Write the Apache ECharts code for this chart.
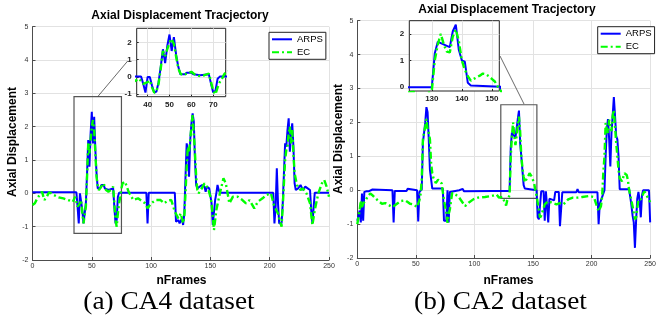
<!DOCTYPE html>
<html><head><meta charset="utf-8">
<script src="https://cdn.jsdelivr.net/npm/echarts@6/dist/echarts.min.js"></script>
<style>html,body{margin:0;padding:0;background:#fff}#c{width:659px;height:328px}</style>
</head><body><div id="c"></div>
<script>
// ---------- DATA: [frame, axial displacement] ----------
const arpsA = [[0,0.03],[37,0.03],[38,-0.4],[39,-0.9],[40,0.0],[41,0.0],[42,-0.5],[43,-0.9],[44,-0.85],[45,-0.3],
 [46,0.6],[47,1.6],[48,0.8],[49,1.8],[50,2.45],[51,1.5],[52,2.3],[53,1.3],[54,0.6],[55,0.15],
 [57,0.15],[58,0.25],[60,0.25],[61,0.15],[64,0.1],[68,0.15],[69,-0.4],[70,-0.9],[71,-0.8],[72,-0.1],
 [73,0.02],[96,0.02],[97,-0.9],[98,0.02],[120,0.02],[121,-0.85],[123,-0.8],[124,-0.9],[126,-0.75],[127,-0.95],
 [128,-0.6],[129,0.5],[130,1.5],[131,1.3],[132,0.5],[133,1.6],[134,2.1],[135,2.4],[136,2.15],[137,1.0],
 [138,0.25],[139,0.15],[141,0.2],[143,0.25],[145,0.2],[146,0.05],[147,0.2],[149,0.15],[150,0.1],[151,-0.3],
 [152,-0.95],[153,-0.9],[154,-0.2],[155,0.0],[156,0.25],[157,0.1],[158,0.02],[203,0.02],[204,-0.9],[205,-0.4],
 [206,0.75],[207,-0.3],[208,-0.9],[210,-0.9],[211,-0.3],[212,0.6],[213,1.5],[214,1.4],[215,1.9],[216,2.25],
 [217,1.25],[218,1.8],[219,2.1],[220,1.4],[221,0.3],[222,0.1],[224,0.15],[226,0.25],[228,0.1],[230,0.2],
 [232,0.15],[234,0.1],[235,-0.5],[236,-0.9],[237,-0.9],[238,0.02],[250,0.02]];

const ecA = [[0,-0.35],[2,-0.3],[4,-0.15],[6,-0.05],[8,0.05],[10,-0.2],[12,-0.1],[14,0.03],[16,0.0],[18,-0.05],
 [22,-0.12],[26,-0.15],[30,-0.2],[34,-0.25],[36,-0.1],[38,-0.4],[40,-0.3],[41,-0.2],[42,-0.6],[43,-0.9],
 [44,-0.85],[45,-0.4],[46,0.5],[47,1.5],[48,1.2],[49,1.6],[50,2.0],[51,2.2],[52,1.9],[53,1.2],
 [54,0.5],[55,0.2],[56,0.1],[58,0.2],[60,0.3],[62,0.1],[64,0.05],[66,0.1],[68,0.2],[69,-0.3],
 [70,-0.8],[71,-1.0],[72,-0.6],[73,-0.3],[74,-0.1],[75,0.15],[76,0.3],[78,0.35],[81,0.05],[85,-0.2],
 [89,-0.15],[93,-0.25],[95,-0.3],[97,-0.45],[100,-0.3],[104,-0.2],[108,-0.2],[111,-0.3],[114,-0.22],[117,-0.2],
 [120,-0.55],[123,-0.75],[125,-0.6],[127,-0.9],[128,-0.7],[129,0.0],[130,0.8],[131,1.4],[132,1.25],[133,1.6],
 [134,2.0],[135,2.35],[136,1.8],[137,1.2],[138,0.5],[139,0.1],[140,0.0],[142,0.1],[145,0.3],[148,0.15],
 [150,-0.1],[151,-0.3],[153,-1.1],[155,-0.5],[158,0.0],[161,0.45],[163,0.3],[166,-0.3],[169,-0.1],[173,-0.1],
 [177,-0.2],[180,-0.3],[183,-0.2],[187,-0.45],[190,-0.25],[194,-0.15],[197,-0.05],[201,0.0],[204,-0.4],[207,-0.6],
 [210,-1.0],[211,-0.4],[212,0.3],[213,1.0],[214,1.3],[215,1.4],[216,1.8],[217,2.0],[218,1.5],[219,1.9],
 [220,1.2],[221,0.6],[223,0.25],[226,0.1],[228,0.15],[231,0.0],[234,-0.3],[236,-0.95],[238,-0.5],[241,0.0],
 [244,0.3],[246,0.4],[248,0.2],[250,-0.1]];

const arpsB = [[0,-0.9],[1,-0.95],[2,-0.6],[3,-0.95],[4,-0.1],[5,-0.9],[6,-0.05],[8,-0.03],[10,-0.03],[13,0.02],
 [30,0.0],[31,-0.95],[32,-0.02],[42,-0.02],[43,0.04],[44,0.02],[51,0.0],[52,-0.92],[53,-0.05],[55,0.02],
 [56,1.4],[57,1.7],[58,2.0],[59,2.45],[60,2.3],[61,1.5],[62,0.6],[64,0.05],[73,0.05],[74,-0.9],
 [76,-0.9],[77,0.0],[78,-0.95],[79,-0.05],[87,0.0],[88,0.04],[90,0.04],[91,-0.03],[116,-0.02],[117,0.02],
 [118,-0.02],[130,-0.02],[131,1.27],[132,1.7],[133,1.65],[135,1.55],[136,1.5],[137,2.1],[138,2.35],[139,1.4],
 [140,1.0],[141,0.95],[142,0.15],[143,0.05],[153,0.0],[154,-0.8],[155,-0.86],[156,-0.9],[157,-0.03],[159,-0.03],
 [160,-0.9],[161,-0.03],[162,-0.05],[163,-0.95],[164,-0.25],[168,-0.3],[169,-0.05],[172,-0.05],[173,-1.06],[174,-1.06],
 [175,-0.06],[187,-0.06],[188,0.03],[189,-0.06],[205,-0.06],[206,-1.0],[207,-0.4],[208,-0.3],[210,-0.1],[211,0.0],
 [212,1.0],[213,1.8],[214,2.1],[215,1.5],[216,0.7],[217,1.7],[218,2.2],[219,2.75],[220,2.2],[221,1.6],
 [222,1.5],[223,1.0],[224,0.03],[232,0.03],[233,-0.2],[234,-0.45],[235,-0.75],[236,-0.95],[237,-1.7],[238,-0.9],
 [239,-0.25],[240,-0.05],[241,-0.3],[242,-0.8],[243,-0.15],[244,0.0],[249,0.0],[250,-0.95]];

const ecB = [[0,-1.0],[1,-0.95],[2,-0.6],[3,-0.3],[4,-0.5],[5,-0.4],[6,-0.35],[7,-0.3],[9,-0.18],[11,-0.1],
 [13,-0.15],[15,-0.22],[18,-0.32],[21,-0.4],[24,-0.38],[26,-0.42],[30,-0.5],[33,-0.42],[37,-0.32],[41,-0.3],
 [43,-0.35],[45,-0.4],[48,-0.42],[51,-0.5],[52,-0.47],[53,-0.3],[54,-0.12],[55,0.3],[56,1.5],[57,1.7],
 [58,1.88],[59,2.1],[60,1.8],[61,1.7],[62,1.5],[63,0.8],[64,0.5],[65,0.36],[67,0.21],[69,0.31],
 [70,0.3],[72,0.2],[73,-0.05],[74,-0.3],[76,-0.66],[77,-0.96],[78,-0.7],[79,-0.57],[81,-0.08],[84,-0.13],
 [87,-0.22],[90,-0.37],[92,-0.47],[95,-0.37],[99,-0.27],[103,-0.22],[109,-0.2],[115,-0.17],[119,-0.13],[121,-0.22],
 [124,-0.2],[126,-0.37],[127,-0.45],[128,-0.3],[130,-0.15],[131,1.0],[132,1.6],[133,2.0],[134,1.6],[135,1.33],
 [136,1.3],[137,1.9],[138,2.17],[139,1.74],[140,1.0],[141,0.65],[142,0.4],[143,0.23],[144,0.3],[145,0.36],
 [146,0.42],[147,0.5],[148,0.48],[149,0.4],[150,0.3],[151,0.2],[152,0.0],[153,-0.15],[154,-0.37],[156,-0.81],
 [157,-0.75],[160,-0.42],[163,-0.32],[166,-0.37],[170,-0.42],[173,-0.38],[176,-0.42],[180,-0.27],[184,-0.22],[188,-0.22],
 [192,-0.2],[198,-0.17],[202,-0.2],[204,-0.42],[206,-0.62],[208,-0.47],[209,-0.2],[210,0.5],[211,1.0],[212,1.98],
 [213,1.8],[214,1.68],[215,2.08],[216,1.9],[217,1.74],[218,2.2],[219,2.37],[220,1.88],[221,1.4],[222,1.0],
 [223,0.6],[224,0.35],[226,0.26],[228,0.5],[230,0.45],[231,0.3],[232,0.02],[235,-0.47],[237,-0.86],[238,-0.8],
 [240,-0.27],[242,-0.27],[245,-0.03],[248,-0.22],[250,-0.35]];

// zoom regions (data coords) and inset ranges
const boxA = {x0:35, x1:75, y0:-1.2, y1:2.9};
const boxB = {x0:122.5, x1:153.3, y0:-0.24, y1:2.52};
const insetA = {xMin:35, xMax:75.7, yMin:-1.14, yMax:2.81};
const insetB = {xMin:122.5, xMax:152.5, yMin:-0.16, yMax:2.5};
const seriesNames = ['ARPS','EC'];
const titleText = 'Axial Displacement Tracjectory';
const xName = 'nFrames', yName = 'Axial Displacement';
const captions = ['(a) CA4 dataset','(b) CA2 dataset'];

// ---------- STYLE ----------
const SANS = "'Liberation Sans', Arial, Helvetica, sans-serif";
const SERIF = "'Liberation Serif', 'Times New Roman', serif";
const BLUE = '#0000ff', GREEN = '#00ff00';
const DASHDOT = [7,3,2,3];

function mainX(gi){ return {gridIndex:gi, type:'value', min:0, max:250, interval:50,
  axisLine:{show:true, onZero:false, lineStyle:{color:'#4d4d4d', width:1}},
  axisTick:{show:true, inside:true, length:3, lineStyle:{color:'#4d4d4d'}},
  axisLabel:{fontSize:7, color:'#333', margin:3, fontFamily:SANS},
  splitLine:{show:true, lineStyle:{color:'#e2e2e2', width:1}}}; }
function mainY(gi){ return {gridIndex:gi, type:'value', min:-2, max:5, interval:1,
  axisLine:{show:true, onZero:false, lineStyle:{color:'#4d4d4d', width:1}},
  axisTick:{show:true, inside:true, length:3, lineStyle:{color:'#4d4d4d'}},
  axisLabel:{fontSize:7, color:'#333', margin:4, fontFamily:SANS},
  splitLine:{show:true, lineStyle:{color:'#e2e2e2', width:1}}}; }
function insetAxis(gi, min, max, split, isX){ return {gridIndex:gi, type:'value', min:min, max:max, splitNumber:split, z:11,
  axisLine:{show:false, onZero:false},
  axisTick:{show:true, inside:true, length:2, lineStyle:{color:'#222'}},
  axisLabel:{fontSize:8, fontWeight:'bold', color:'#222', margin: isX?4:5, fontFamily:SANS, showMinLabel:false, showMaxLabel:false},
  splitLine:{show:true, showMinLine:false, showMaxLine:false, lineStyle:{color:'#e2e2e2', width:1}}}; }

function lineSeries(name, data, gi, z, extra){
  const isEC = name === 'EC';
  return Object.assign({type:'line', name:name, data:data, xAxisIndex:gi, yAxisIndex:gi, z:z,
    symbol:'none', showSymbol:false, animation:false, clip:true,
    lineStyle:{color: isEC?GREEN:BLUE, width: isEC?2.4:2, type: isEC?DASHDOT:'solid'},
    itemStyle:{color: isEC?GREEN:BLUE}}, extra||{});
}
function boxArea(b){ return {silent:true, itemStyle:{color:'rgba(0,0,0,0)', borderColor:'#555', borderWidth:1.2},
  data:[[{coord:[b.x0,b.y1]},{coord:[b.x1,b.y0]}]]}; }

function legendAt(left, top){ return {data:seriesNames, left:left, top:top, orient:'vertical', selectedMode:false,
  itemWidth:20, itemHeight:9, itemGap:3, padding:[2,3,2,2], borderColor:'#222', borderWidth:1,
  itemStyle:{opacity:0}, lineStyle:{width:2},
  backgroundColor:'#fff', z:20, textStyle:{fontSize:9.5, color:'#000', fontFamily:SANS}}; }

function txt(text, x, y, size, weight, family, rot, sx){ return {type:'text', x:x, y:y, rotation:rot||0, scaleX:sx||1, z:30,
  style:{text:text, fontSize:size, fontWeight:weight, fontFamily:family, fill:'#000', align:'center', verticalAlign:'middle'}}; }

const option = {
  backgroundColor:'#fff',
  animation:false,
  grid:[
    {left:32.5, top:26.7, width:296.5, height:233.3, show:false},
    {left:136.7, top:28.3, width:89, height:68.4, show:true, backgroundColor:'#fff', borderColor:'#222', borderWidth:1, z:10},
    {left:357.3, top:20.7, width:300, height:237.3, show:false},
    {left:409.3, top:20.7, width:90, height:70.3, show:true, backgroundColor:'#fff', borderColor:'#222', borderWidth:1, z:10}
  ],
  xAxis:[ mainX(0), insetAxis(1, insetA.xMin, insetA.xMax, 4, true), mainX(2), insetAxis(3, insetB.xMin, insetB.xMax, 3, true) ],
  yAxis:[ mainY(0), insetAxis(1, insetA.yMin, insetA.yMax, 4, false), mainY(2), insetAxis(3, insetB.yMin, insetB.yMax, 3, false) ],
  legend:[ legendAt(269, 32.3), legendAt(597.7, 26.7) ],
  series:[
    lineSeries('ARPS', arpsA, 0, 2),
    lineSeries('EC', ecA, 0, 3, {markArea: boxArea(boxA)}),
    lineSeries('ARPS', arpsA, 1, 12),
    lineSeries('EC', ecA, 1, 13),
    lineSeries('ARPS', arpsB, 2, 2),
    lineSeries('EC', ecB, 2, 3, {markArea: boxArea(boxB)}),
    lineSeries('ARPS', arpsB, 3, 12),
    lineSeries('EC', ecB, 3, 13)
  ],
  graphic:[
    txt(titleText, 180, 15.5, 12, 'bold', SANS),
    txt(titleText, 507, 10, 12, 'bold', SANS),
    txt(yName, 13, 142, 12, 'bold', SANS, Math.PI/2),
    txt(yName, 339, 139, 12, 'bold', SANS, Math.PI/2),
    txt(xName, 181.5, 281, 12, 'bold', SANS),
    txt(xName, 508.5, 281, 12, 'bold', SANS),
    txt(captions[0], 169, 302, 26, 'normal', SERIF, 0, 1.05),
    txt(captions[1], 500.5, 302, 26, 'normal', SERIF, 0, 1.05),
    {type:'line', z:30, shape:{x1:97.7, y1:96.7, x2:127.7, y2:61}, style:{stroke:'#444', lineWidth:0.8}},
    {type:'line', z:30, shape:{x1:500, y1:56, x2:524, y2:104}, style:{stroke:'#444', lineWidth:0.8}}
  ]
};
const chart = echarts.init(document.getElementById('c'), null, {renderer:'canvas'});
chart.setOption(option);
</script></body></html>
